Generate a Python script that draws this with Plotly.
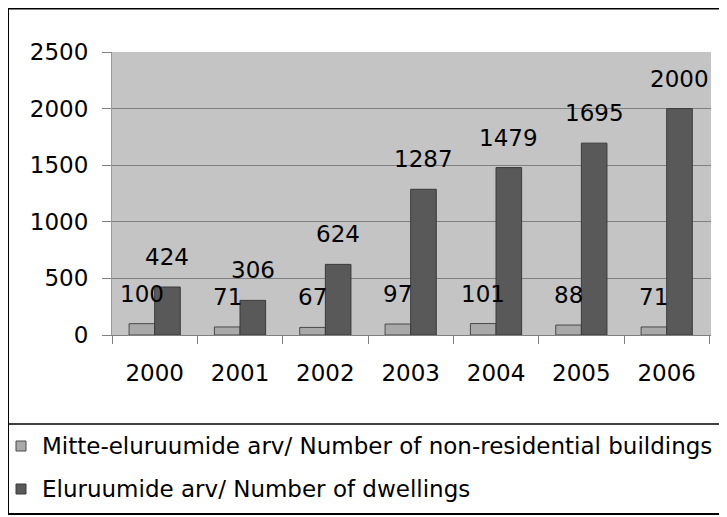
import plotly.graph_objects as go

years = ["2000", "2001", "2002", "2003", "2004", "2005", "2006"]
nonres = [100, 71, 67, 97, 101, 88, 71]
dwell = [424, 306, 624, 1287, 1479, 1695, 2000]
name_nonres = "Mitte-eluruumide arv/ Number of non-residential buildings"
name_dwell = "Eluruumide arv/ Number of dwellings"
y_ticks = [0, 500, 1000, 1500, 2000, 2500]

# page has an 8px body margin; work in figure pixel coords (page - 8)
W, H = 727, 517
L, R, T, B = 104, 24, 44, 190
pw, ph = W - L - R, H - T - B

def px_x(p):
    return (p - L) / pw

def px_y(p):
    return (H - B - p) / ph

FONT = "DejaVu Sans"
FS = 23
C_LIGHT, C_DARK = "#a9a9a9", "#595959"
C_LINE_L, C_LINE_D = "#4a4a4a", "#3a3a3a"

fig = go.Figure()
fig.add_trace(go.Bar(x=years, y=nonres, name=name_nonres, showlegend=False,
                     marker=dict(color=C_LIGHT, line=dict(color=C_LINE_L, width=1))))
fig.add_trace(go.Bar(x=years, y=dwell, name=name_dwell, showlegend=False,
                     marker=dict(color=C_DARK, line=dict(color=C_LINE_D, width=1))))

half = (1 - 0.40) / 4
ann = []
for i, (a, b) in enumerate(zip(nonres, dwell)):
    ann.append(dict(x=i - half, y=a, text=str(a), showarrow=False, xref="x", yref="y",
                    yanchor="bottom", yshift=15, font=dict(family=FONT, size=FS, color="black")))
    ann.append(dict(x=i + half, y=b, text=str(b), showarrow=False, xref="x", yref="y",
                    yanchor="bottom", yshift=15, font=dict(family=FONT, size=FS, color="black")))

shapes = [
    dict(type="rect", xref="paper", yref="paper", x0=px_x(0), x1=px_x(740),
         y0=px_y(506), y1=px_y(0.5), line=dict(color="black", width=2), fillcolor="rgba(0,0,0,0)"),
    dict(type="line", xref="paper", yref="paper", x0=px_x(0), x1=px_x(740),
         y0=px_y(416), y1=px_y(416), line=dict(color="black", width=1.5)),
]

# manual legend
for name, col, lc, yc in [(name_nonres, C_LIGHT, C_LINE_L, 438), (name_dwell, C_DARK, C_LINE_D, 481)]:
    shapes.append(dict(type="rect", xref="paper", yref="paper",
                       x0=px_x(8), x1=px_x(18), y0=px_y(yc + 5), y1=px_y(yc - 5),
                       fillcolor=col, line=dict(color=lc, width=1)))
    ann.append(dict(x=px_x(32), y=px_y(yc), xref="paper", yref="paper", text=name,
                    showarrow=False, xanchor="left", yanchor="middle",
                    font=dict(family=FONT, size=FS, color="black")))

fig.update_layout(
    width=W, height=H,
    margin=dict(l=L, r=R, t=T, b=B),
    paper_bgcolor="white",
    plot_bgcolor="#c4c4c4",
    barmode="group",
    bargap=0.40,
    bargroupgap=0,
    font=dict(family=FONT, size=FS, color="black"),
    showlegend=False,
    annotations=ann,
    shapes=shapes,
)
fig.update_xaxes(type="category", showgrid=False, tickson="boundaries", ticks="outside",
                 ticklen=8, tickcolor="#808080", showline=True, linecolor="#808080",
                 linewidth=1, ticklabelstandoff=17,
                 tickfont=dict(family=FONT, size=FS, color="black"))
fig.update_yaxes(range=[0, 2500], tickvals=y_ticks, showgrid=True, gridcolor="#808080",
                 gridwidth=1, ticks="outside", ticklen=9, tickcolor="#808080",
                 showline=True, linecolor="#9a9a9a", linewidth=1, zeroline=False,
                 ticklabelstandoff=9,
                 tickfont=dict(family=FONT, size=FS, color="black"))

fig.write_html("out.html")
